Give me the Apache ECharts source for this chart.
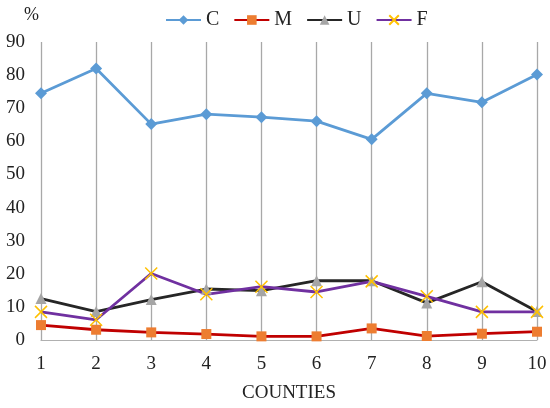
<!DOCTYPE html>
<html>
<head>
<meta charset="utf-8">
<script src="https://cdn.jsdelivr.net/npm/echarts@6/dist/echarts.min.js"></script>
<style>
html,body{margin:0;padding:0;background:#fff;}
#c{width:550px;height:408px;}
</style>
</head>
<body>
<div id="c"></div>
<script>
const categories = ['1','2','3','4','5','6','7','8','9','10'];
const seriesC = [74.5, 82.0, 65.2, 68.2, 67.3, 66.1, 60.6, 74.5, 71.8, 80.2];
const seriesM = [4.5, 3.1, 2.3, 1.8, 1.1, 1.1, 3.5, 1.2, 1.9, 2.5];
const seriesU = [12.5, 8.6, 12.2, 15.4, 14.9, 17.9, 17.9, 11.2, 17.6, 8.6];
const seriesF = [8.5, 6.1, 20.1, 13.8, 16.1, 14.5, 17.7, 13.2, 8.5, 8.5];
const yTicks = {min: 0, max: 90, interval: 10};

const font = 'Liberation Serif, Times New Roman, serif';
const chart = echarts.init(document.getElementById('c'), null, {renderer: 'canvas'});
const xPath = 'path://M0,0L10,10M10,0L0,10';

function mk(name, data, lineColor, markerColor, symbol, size, extra) {
  return Object.assign({
    name: name,
    type: 'line',
    data: data,
    symbol: symbol,
    symbolSize: size,
    showAllSymbol: true,
    lineStyle: {color: lineColor, width: 2.8},
    itemStyle: {color: markerColor, borderColor: markerColor, borderWidth: 0},
    emphasis: {disabled: true},
    animation: false
  }, extra || {});
}

chart.setOption({
  backgroundColor: '#fff',
  textStyle: {fontFamily: font},
  graphic: [{
    type: 'text', left: 24, top: 6,
    style: {text: '%', font: '18px ' + font, fill: '#222'}
  }],
  legend: {
    top: 5,
    left: 160,
    itemWidth: 35,
    itemHeight: 12,
    itemGap: 14,
    textStyle: {fontFamily: font, fontSize: 20, color: '#222'},
    data: ['C', 'M', 'U', 'F']
  },
  grid: {left: 41, right: 13, top: 42, bottom: 66, containLabel: false},
  xAxis: {
    type: 'category',
    data: categories,
    boundaryGap: false,
    name: 'COUNTIES',
    nameLocation: 'middle',
    nameGap: 44,
    nameTextStyle: {fontFamily: font, fontSize: 19, color: '#222'},
    axisLine: {lineStyle: {color: '#B0B0B0', width: 1.2}},
    axisTick: {show: false},
    axisLabel: {fontFamily: font, fontSize: 19, color: '#222', margin: 15},
    splitLine: {show: true, lineStyle: {color: '#A8A8A8', width: 1.3}}
  },
  yAxis: {
    type: 'value',
    min: yTicks.min,
    max: yTicks.max,
    interval: yTicks.interval,
    axisLine: {show: false},
    axisTick: {show: false},
    axisLabel: {fontFamily: font, fontSize: 19, color: '#222', margin: 16, padding: [5, 0, 0, 0]},
    splitLine: {show: false}
  },
  series: [
    mk('C', seriesC, '#5B9BD5', '#5B9BD5', 'diamond', 12),
    mk('M', seriesM, '#C00000', '#ED7D31', 'rect', 10),
    mk('U', seriesU, '#262626', '#A5A5A5', 'triangle', 11),
    mk('F', seriesF, '#7030A0', 'none', xPath, 12, {
      itemStyle: {color: 'none', borderColor: '#FFC000', borderWidth: 1.5}
    })
  ]
});
</script>
</body>
</html>
